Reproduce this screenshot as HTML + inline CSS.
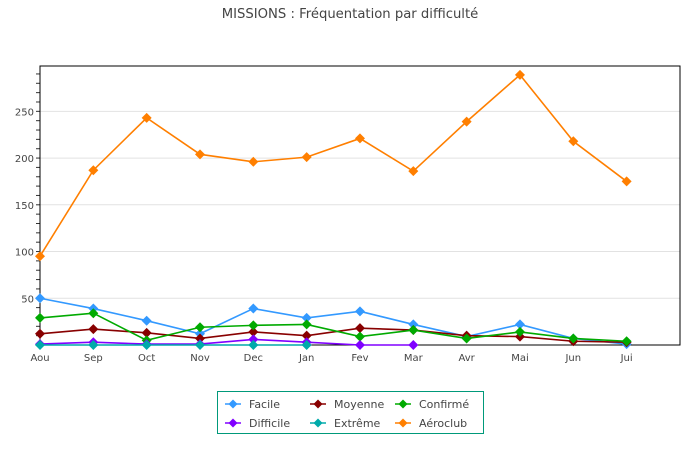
<!DOCTYPE html>
<html><head><meta charset="utf-8"><style>
body{margin:0;background:#fff;}
svg{display:block;font-family:"DejaVu Sans","Liberation Sans",sans-serif;}
</style></head><body>
<svg id="c" width="700" height="460">
<text x="350" y="18" text-anchor="middle" font-size="13.2" fill="#444">MISSIONS : Fréquentation par difficulté</text>
<g id="grid"></g><g id="axes"></g><g id="series"></g><g id="legend"></g>
</svg>
<script>
const categories=["Aou","Sep","Oct","Nov","Dec","Jan","Fev","Mar","Avr","Mai","Jun","Jui"];
const yTicks=[50,100,150,200,250];
const facile=[50,39,26,12,39,29,36,22,9,22,7,1];
const moyenne=[12,17,13,7,14,10,18,16,10,9,4,3];
const confirme=[29,34,5,19,21,22,9,16,7,14,7,4];
const difficile=[1,3,1,1,6,3,0,0];
const extreme=[0,0,0,0,0,0];
const aeroclub=[95,187,243,204,196,201,221,186,239,289,218,175];
const seriesNames=["Facile","Moyenne","Confirmé","Difficile","Extrême","Aéroclub"];
const seriesColors=["#3399ff","#880000","#00aa00","#8000ff","#00aaaa","#ff7f00"];
const seriesData=[facile,moyenne,confirme,difficile,extreme,aeroclub];
const NS="http://www.w3.org/2000/svg";
const L=40,R=680,T=66,B=345,YMAX=298.5,STEP=53.33;
const xs=i=>L+i*STEP, ys=v=>B-(v/YMAX)*(B-T);
function mk(t,a,p){const e=document.createElementNS(NS,t);for(const k in a)e.setAttribute(k,a[k]);p.appendChild(e);return e;}
const grid=document.getElementById('grid'),axes=document.getElementById('axes'),ser=document.getElementById('series'),leg=document.getElementById('legend');
yTicks.forEach(v=>{
 const g=mk('line',{x1:L,x2:R,y1:ys(v),y2:ys(v),stroke:'#e2e2e2'},grid);
 
 
 const t=mk('text',{x:34,y:ys(v)+4,'text-anchor':'end','font-size':10,fill:'#444'},axes);
 t.textContent=v;
 
 
});
for(let v=10;v<YMAX;v+=10){mk('line',{x1:36,x2:L,y1:ys(v),y2:ys(v),stroke:'#333'},axes);}
const box=mk('rect',{x:L,y:T,width:R-L,height:B-T,fill:'none',stroke:'#000'},axes);


categories.forEach((c,i)=>{
 const t=mk('text',{x:xs(i),y:B+16,'text-anchor':'middle','font-size':10,fill:'#444'},axes);
 t.textContent=c;
 
 
});
function diamond(x,y,c,p,s){return mk('polygon',{points:`${x},${y-s} ${x+s},${y} ${x},${y+s} ${x-s},${y}`,fill:c},p);}
seriesData.forEach((d,si)=>{
 const g=mk('g',{},ser);
 
 
 mk('polyline',{points:d.map((v,i)=>xs(i)+','+ys(v)).join(' '),fill:'none',stroke:seriesColors[si],'stroke-width':1.6},g);
 d.forEach((v,i)=>{
  const p=diamond(xs(i),ys(v),seriesColors[si],g,5);
  
  
 });
});
const lb=mk('rect',{x:217.5,y:391.5,width:266,height:42,fill:'#fff',stroke:'#00997a'},leg);


const order=[0,1,2,3,4,5];
order.forEach((si,k)=>{
 const col=k%3,row=Math.floor(k/3);
 const x=225+col*85,y=404+row*19;
 const g=mk('g',{},leg);
 
 
 mk('line',{x1:x,x2:x+16,y1:y,y2:y,stroke:seriesColors[si],'stroke-width':1.5},g);
 diamond(x+8,y,seriesColors[si],g,4.5);
 const t=mk('text',{x:x+24,y:y+4,'font-size':11,fill:'#444'},g);
 t.textContent=seriesNames[si];
});
</script>
</body></html>
